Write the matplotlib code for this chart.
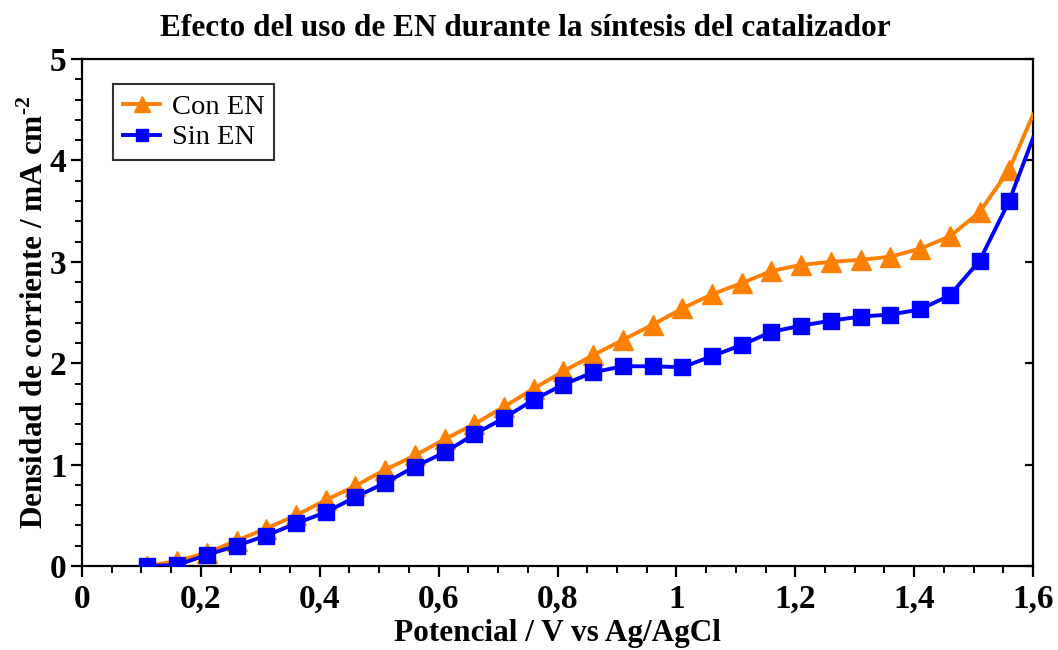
import matplotlib
matplotlib.use("Agg")
import matplotlib.pyplot as plt
from matplotlib.ticker import MultipleLocator, FixedLocator

plt.rcParams['font.family'] = ['Liberation Serif', 'DejaVu Serif']
plt.rcParams['mathtext.fontset'] = 'custom'
plt.rcParams['mathtext.rm'] = 'Liberation Serif:bold'
plt.rcParams['mathtext.bf'] = 'Liberation Serif:bold'

potential = [0.10, 0.11, 0.16, 0.21, 0.26, 0.31, 0.36, 0.41, 0.46, 0.51, 0.56, 0.61, 0.66,
             0.71, 0.76, 0.81, 0.86, 0.91, 0.96, 1.01, 1.06, 1.11, 1.16, 1.21, 1.26,
             1.31, 1.36, 1.41, 1.46, 1.51, 1.56, 1.60]
con_en = [0.0, 0.0, 0.05, 0.13, 0.25, 0.37, 0.50, 0.65, 0.79, 0.95, 1.09, 1.25, 1.40,
          1.57, 1.75, 1.92, 2.08, 2.23, 2.38, 2.54, 2.68, 2.79, 2.91, 2.97, 3.00,
          3.02, 3.05, 3.13, 3.25, 3.49, 3.91, 4.45]
sin_en = [0.0, 0.0, 0.01, 0.11, 0.20, 0.30, 0.42, 0.53, 0.68, 0.82, 0.98, 1.12, 1.30,
          1.46, 1.64, 1.79, 1.91, 1.97, 1.97, 1.96, 2.07, 2.18, 2.31, 2.37, 2.42,
          2.46, 2.48, 2.53, 2.67, 3.01, 3.60, 4.22]
marker_idx = list(range(1, len(potential) - 1))

x_ticks = [0, 0.2, 0.4, 0.6, 0.8, 1.0, 1.2, 1.4, 1.6]
x_labels = ["0", "0,2", "0,4", "0,6", "0,8", "1", "1,2", "1,4", "1,6"]
y_ticks = [0, 1, 2, 3, 4, 5]
y_labels = ["0", "1", "2", "3", "4", "5"]

orange = "#FF8000"
blue = "#0000FF"

fig = plt.figure(figsize=(10.58, 6.5), dpi=100)
ax = fig.add_axes([0.0775, 0.1292, 0.8989, 0.78])

ax.plot(potential, con_en, color=orange, lw=2.8, marker="^", ms=14,
        markevery=marker_idx, label="Con EN", zorder=3)
ax.plot(potential, sin_en, color=blue, lw=2.8, marker="s", ms=11,
        markevery=marker_idx, label="Sin EN", zorder=4)

ax.set_xlim(0, 1.6)
ax.set_ylim(0, 5)
ax.xaxis.set_major_locator(FixedLocator(x_ticks))
ax.set_xticklabels(x_labels)
ax.xaxis.set_minor_locator(MultipleLocator(0.05))
ax.yaxis.set_major_locator(FixedLocator(y_ticks))
ax.set_yticklabels(y_labels)
ax.yaxis.set_minor_locator(MultipleLocator(0.2))

ax.tick_params(axis='both', which='major', direction='out', length=8, width=1.6,
               labelsize=24, pad=3)
ax.tick_params(axis='x', which='major', pad=5)
ax.tick_params(axis='both', which='minor', direction='out', length=5, width=1.4)
ax.tick_params(axis='y', which='major', right=True, labelright=False)
ax.tick_params(axis='y', which='minor', right=False)
for lab in ax.get_xticklabels() + ax.get_yticklabels():
    lab.set_fontweight('bold')

for s in ax.spines.values():
    s.set_linewidth(1.6)

# right-side ticks drawn inward
for t in ax.yaxis.get_major_ticks():
    t.tick2line.set_marker(matplotlib.lines.TICKLEFT)
    t.tick2line.set_markersize(6)

ax.set_xlabel("Potencial / V vs Ag/AgCl", fontsize=22.5, fontweight='bold', labelpad=3)
ax.set_ylabel(r"Densidad de corriente / mA cm$^{\text{-2}}$", fontsize=22.5,
              fontweight='bold', labelpad=0)
fig.text(525 / 1058, 1 - 28 / 650, "Efecto del uso de EN durante la síntesis del catalizador",
         fontsize=22.5, fontweight='bold', ha='center', va='center')

leg = ax.legend(loc='upper left', bbox_to_anchor=(0.033, 0.95), fontsize=20.5,
                frameon=True, fancybox=False, edgecolor='black', handlelength=1.3,
                handletextpad=0.4, borderpad=0.35, labelspacing=0.15,
                borderaxespad=0, markerscale=0.8)
leg.get_frame().set_linewidth(1.5)

fig.savefig("out.png", dpi=100)
